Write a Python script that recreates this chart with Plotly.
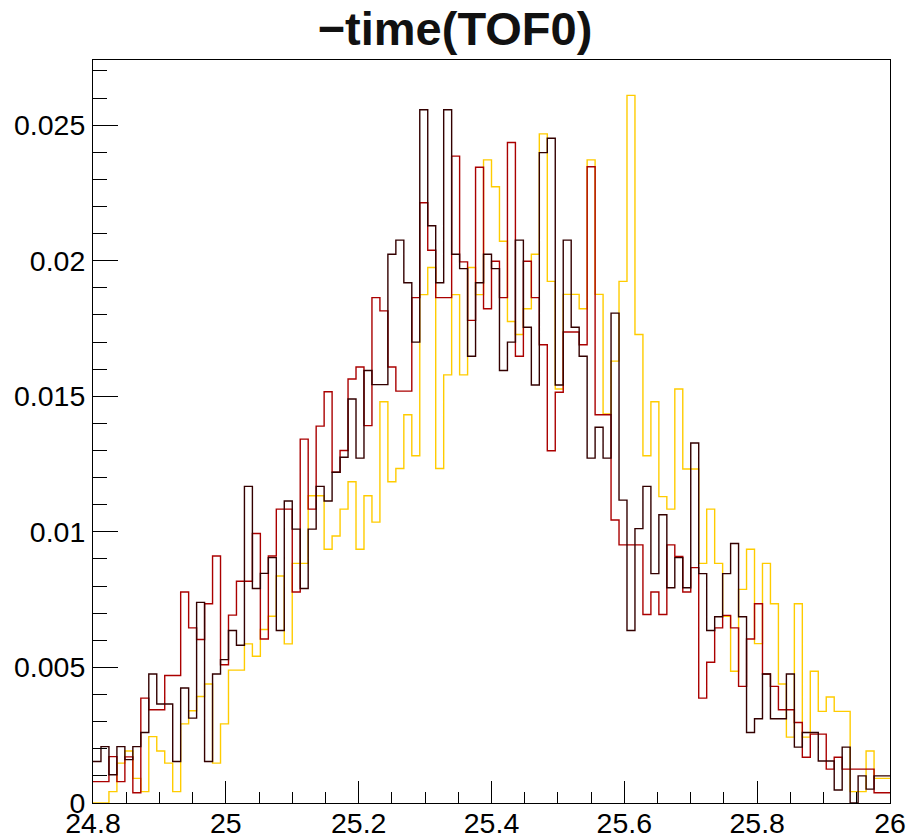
import numpy as np
import plotly.graph_objects as go

# Histogram binning: 100 bins from 24.8 to 26.0
x_min = 24.8
x_max = 26.0
n_bins = 100

# Normalised bin contents (bin 0 .. 99)
yellow_vals = [
    0.0, 0.0, 0.00042, 0.00147, 0.00192, 0.00091, 0.00042, 0.00245, 0.00192, 0.00147,
    0.00042, 0.00292, 0.0034, 0.00393, 0.00439, 0.00147, 0.00292, 0.0049, 0.0049, 0.00587,
    0.00541, 0.0064, 0.00689, 0.00837, 0.00587, 0.00884, 0.00884, 0.01133, 0.01133, 0.00936,
    0.00985, 0.01084, 0.01185, 0.00936, 0.01133, 0.01036, 0.0148, 0.01185, 0.01234, 0.01432,
    0.01281, 0.01875, 0.01975, 0.01234, 0.01579, 0.01875, 0.01579, 0.01975, 0.01875, 0.02372,
    0.02273, 0.02072, 0.01776, 0.01728, 0.01823, 0.02024, 0.02468, 0.01924, 0.01527, 0.01876,
    0.01876, 0.01823, 0.02372, 0.01876, 0.01435, 0.0163, 0.01924, 0.0261, 0.01728, 0.01281,
    0.0148, 0.0113, 0.01084, 0.01527, 0.01232, 0.01232, 0.00884, 0.01084, 0.00884, 0.00689,
    0.00486, 0.00788, 0.00936, 0.00588, 0.00884, 0.00735, 0.00439, 0.00243, 0.00735, 0.00243,
    0.00486, 0.00338, 0.00391, 0.00338, 0.00338, 0.00042, 0.00042, 0.00192, 0.00091, 0.00091,
]

red_vals = [
    0.00079, 0.00079, 0.00171, 0.00079, 0.0017, 0.00038, 0.00387, 0.00344, 0.00344, 0.0047,
    0.0047, 0.00778, 0.00646, 0.00603, 0.00735, 0.00911, 0.0051, 0.00693, 0.00818, 0.00818,
    0.00994, 0.00605, 0.00911, 0.01084, 0.01084, 0.00778, 0.01342, 0.01084, 0.0139, 0.01517,
    0.0122, 0.013, 0.01564, 0.01608, 0.01392, 0.01864, 0.01815, 0.01608, 0.01519, 0.01519,
    0.01864, 0.02214, 0.02039, 0.01864, 0.01864, 0.02386, 0.01996, 0.0178, 0.02345, 0.01823,
    0.01998, 0.01864, 0.02436, 0.01648, 0.01998, 0.01864, 0.0169, 0.01299, 0.01515, 0.01737,
    0.01737, 0.0169, 0.02347, 0.01432, 0.01432, 0.01044, 0.00952, 0.00952, 0.00952, 0.00695,
    0.00778, 0.00695, 0.00952, 0.00909, 0.00778, 0.00868, 0.00387, 0.00519, 0.00646, 0.00692,
    0.00646, 0.0043, 0.00605, 0.00735, 0.00476, 0.0043, 0.00344, 0.00344, 0.00297, 0.00169,
    0.00254, 0.00254, 0.00125, 0.00169, 0.00125, 0.00125, 0.00125, 0.00125, 0.00038, 0.00038,
]

dark_vals = [
    0.00153, 0.00208, 0.00104, 0.00208, 0.0016, 0.00208, 0.0026, 0.00476, 0.00365, 0.00365,
    0.00153, 0.00424, 0.00313, 0.0074, 0.00153, 0.00476, 0.00529, 0.00636, 0.00582, 0.01168,
    0.00791, 0.00847, 0.00905, 0.00636, 0.01114, 0.0101, 0.00791, 0.0101, 0.01168, 0.01114,
    0.0122, 0.01275, 0.0149, 0.01272, 0.01595, 0.01543, 0.01543, 0.02024, 0.02076, 0.01919,
    0.017, 0.02557, 0.02129, 0.01919, 0.02557, 0.02024, 0.01971, 0.01648, 0.01919, 0.02024,
    0.01971, 0.01595, 0.017, 0.02076, 0.01755, 0.01542, 0.02399, 0.02452, 0.01542, 0.02076,
    0.01755, 0.01648, 0.01272, 0.01386, 0.01272, 0.01807, 0.01117, 0.00636, 0.01012, 0.01168,
    0.00846, 0.01063, 0.00794, 0.00905, 0.00794, 0.01328, 0.00846, 0.00636, 0.00687, 0.00846,
    0.00957, 0.00687, 0.0026, 0.00311, 0.00476, 0.00311, 0.00311, 0.00476, 0.00206, 0.0026,
    0.0026, 0.00155, 0.00155, 0.00048, 0.00206, 0.0, 0.001, 0.00051, 0.001, 0.001,
]

series = [
    ("yellow", yellow_vals, "#ffcc00"),
    ("red", red_vals, "#aa0000"),
    ("dark", dark_vals, "#330000"),
]

x_ticks = [24.8, 25.0, 25.2, 25.4, 25.6, 25.8, 26.0]
x_tick_text = ["24.8", "25", "25.2", "25.4", "25.6", "25.8", "26"]
y_ticks = [0, 0.005, 0.01, 0.015, 0.02, 0.025]
y_tick_text = ["0", "0.005", "0.01", "0.015", "0.02", "0.025"]

edges = np.linspace(x_min, x_max, n_bins + 1)
y_top = max(max(v) for _, v, _ in series) * 1.05

fig = go.Figure()
for name, vals, color in series:
    fig.add_trace(go.Scatter(
        x=edges,
        y=list(vals) + [vals[-1]],
        mode="lines",
        line=dict(shape="hv", color=color, width=1.4),
        name=name,
        showlegend=False,
        hoverinfo="skip",
    ))

axis_font = dict(family="Liberation Sans, Arial, sans-serif", size=28.5, color="black")

fig.update_layout(
    width=906,
    height=839,
    margin=dict(l=93, r=16, t=60, b=36, autoexpand=False),
    paper_bgcolor="white",
    plot_bgcolor="white",
    title=dict(
        text="<b>\u2212time(TOF0)</b>",
        x=455 / 906, xanchor="center",
        y=1 - 29 / 839, yanchor="middle",
        font=dict(family="Liberation Sans, Arial, sans-serif", size=47, color="#111111"),
    ),
    xaxis=dict(
        range=[x_min, x_max],
        tickmode="array", tickvals=x_ticks, ticktext=x_tick_text,
        ticks="inside", ticklen=22, tickwidth=1, tickcolor="black",
        minor=dict(ticks="inside", ticklen=11, dtick=0.05, tick0=24.8, tickcolor="black", tickwidth=1, showgrid=False),
        showline=True, linecolor="black", linewidth=1, mirror=True,
        showgrid=False, zeroline=False,
        tickfont=axis_font,
        ticklabelstandoff=-5,
    ),
    yaxis=dict(
        range=[0, y_top],
        tickmode="array", tickvals=y_ticks, ticktext=y_tick_text,
        ticks="inside", ticklen=25, tickwidth=1, tickcolor="black",
        minor=dict(ticks="inside", ticklen=14, dtick=0.001, tick0=0, tickcolor="black", tickwidth=1, showgrid=False),
        showline=True, linecolor="black", linewidth=1, mirror=True,
        showgrid=False, zeroline=False,
        tickfont=axis_font,
        ticklabelstandoff=1,
    ),
)

# remove the default page margin so the 906x839 figure fills the window exactly
fig.write_html(
    "out.html",
    config={"displayModeBar": False, "staticPlot": True},
    post_script="document.body.style.margin='0';document.body.style.overflow='hidden';",
)
